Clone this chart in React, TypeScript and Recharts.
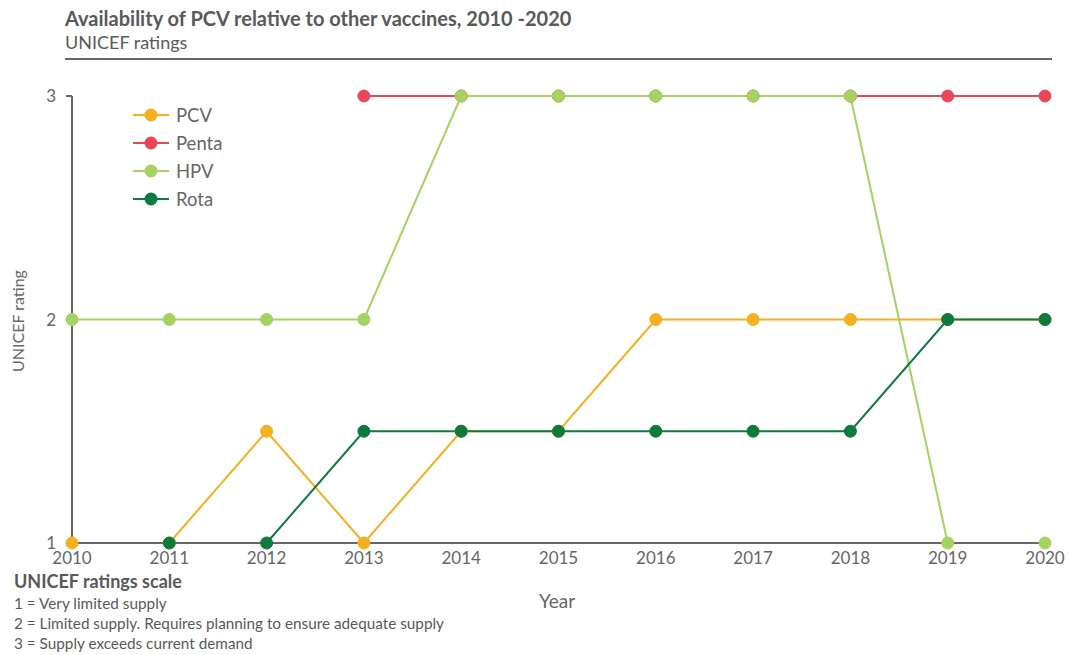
import React from "react";
import { LineChart, Line, XAxis, YAxis } from "recharts";

const years = [2010, 2011, 2012, 2013, 2014, 2015, 2016, 2017, 2018, 2019, 2020];
const pcv = [1, 1, 1.5, 1, 1.5, 1.5, 2, 2, 2, 2, 2];
const penta = [null, null, null, 3, 3, 3, 3, 3, 3, 3, 3];
const hpv = [2, 2, 2, 2, 3, 3, 3, 3, 3, 1, 1];
const rota = [null, 1, 1, 1.5, 1.5, 1.5, 1.5, 1.5, 1.5, 2, 2];
const yTicks = [1, 2, 3];
const scaleNotes = [
  "1 = Very limited supply",
  "2 = Limited supply. Requires planning to ensure adequate supply",
  "3 = Supply exceeds current demand",
];

const series = [
  { key: "PCV", values: pcv, color: "#F4B01F" },
  { key: "Penta", values: penta, color: "#E94656" },
  { key: "HPV", values: hpv, color: "#A5D260" },
  { key: "Rota", values: rota, color: "#0E7A3D" },
];

const data = years.map((y, i) => {
  const row: any = { year: y };
  series.forEach((s) => (row[s.key] = s.values[i]));
  return row;
});

const FONT = "Lato, 'Open Sans', sans-serif";

export default function App() {
  return (
    <div style={{ position: "absolute", left: 0, top: 0, width: 1069, height: 655, background: "#fff", fontFamily: FONT }}>
      <div style={{ position: "absolute", left: 65, top: 6, fontSize: 20, fontWeight: 700, color: "#595959", whiteSpace: "nowrap" }}>
        Availability of PCV relative to other vaccines, 2010 -2020
      </div>
      <div style={{ position: "absolute", left: 65, top: 31, fontSize: 18, color: "#595959", whiteSpace: "nowrap" }}>
        UNICEF ratings
      </div>
      <div style={{ position: "absolute", left: 65, top: 58, width: 987, height: 2, background: "#666" }} />
      <div style={{ position: "absolute", left: 0, top: 0 }}>
        <LineChart width={1069} height={655} data={data} margin={{ top: 96, right: 24, bottom: 82, left: 42 }}>
          <XAxis
            dataKey="year"
            type="number"
            domain={[2010, 2020]}
            ticks={years}
            interval={0}
            tickLine={false}
            tickSize={0}
            tickMargin={9}
            height={30}
            stroke="#666"
            strokeWidth={2}
            tick={{ fill: "#666", fontSize: 17, fontFamily: FONT }}
          />
          <YAxis
            type="number"
            domain={[1, 3]}
            ticks={yTicks}
            width={30}
            tickSize={6}
            tickMargin={10}
            stroke="#666"
            strokeWidth={2}
            tick={{ fill: "#666", fontSize: 17, fontFamily: FONT }}
          />
          {series.map((s) => (
            <Line
              key={s.key}
              dataKey={s.key}
              stroke={s.color}
              strokeWidth={2}
              dot={{ r: 6, fill: s.color, stroke: s.color, strokeWidth: 1 }}
              activeDot={false}
              isAnimationActive={false}
              connectNulls={false}
            />
          ))}
        </LineChart>
      </div>
      <div style={{ position: "absolute", left: 133, top: 101 }}>
        {series.map((s) => (
          <div key={s.key} style={{ display: "flex", alignItems: "center", height: 28 }}>
            <svg width={37} height={14}>
              <line x1={0} y1={7} x2={36} y2={7} stroke={s.color} strokeWidth={2} />
              <circle cx={18} cy={7} r={6.5} fill={s.color} />
            </svg>
            <span style={{ marginLeft: 6, fontSize: 18.5, color: "#666" }}>{s.key}</span>
          </div>
        ))}
      </div>
      <div style={{ position: "absolute", left: 539, top: 589, fontSize: 19, color: "#666" }}>Year</div>
      <div
        style={{
          position: "absolute",
          left: 17,
          top: 321,
          transform: "translate(-50%, -50%) rotate(-90deg)",
          fontSize: 16,
          color: "#666",
          whiteSpace: "nowrap",
        }}
      >
        UNICEF rating
      </div>
      <div style={{ position: "absolute", left: 14, top: 570, fontSize: 18, fontWeight: 700, color: "#595959", whiteSpace: "nowrap" }}>
        UNICEF ratings scale
      </div>
      {scaleNotes.map((t, i) => (
        <div key={i} style={{ position: "absolute", left: 14, top: 594 + i * 20, fontSize: 15.3, color: "#595959", whiteSpace: "nowrap" }}>
          {t}
        </div>
      ))}
    </div>
  );
}
